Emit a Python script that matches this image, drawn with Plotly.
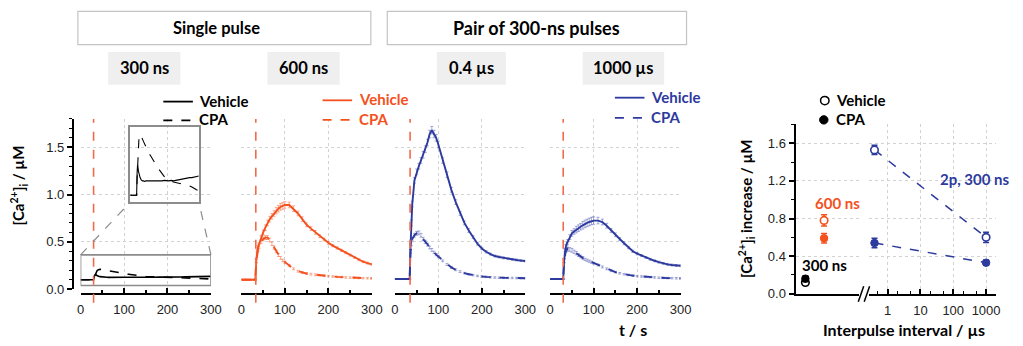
import plotly.graph_objects as go

# ---------------- data ----------------
header_groups = ["Single pulse", "Pair of 300-ns pulses"]
panel_labels = ["300 ns", "600 ns", "0.4 µs", "1000 µs"]
series_names = ["Vehicle", "CPA"]
stim_time = [30, 33, 35, 30]

t = [0, 10, 20, 30, 32, 34, 36, 38, 40, 45, 50, 55, 60, 65, 70, 75, 80, 85, 90, 95, 100,
     110, 120, 130, 140, 150, 160, 170, 180, 190, 200, 210, 220, 230, 240, 250, 260, 270, 280, 290, 300]

p300_veh = [0.100, 0.100, 0.100, 0.100, 0.140, 0.155, 0.150, 0.143, 0.138, 0.132, 0.128, 0.126, 0.126, 0.125,
            0.126, 0.126, 0.125, 0.126, 0.126, 0.125, 0.126, 0.126, 0.125, 0.126, 0.126, 0.127, 0.126, 0.126,
            0.127, 0.126, 0.127, 0.128, 0.128, 0.129, 0.130, 0.131, 0.132, 0.132, 0.133, 0.134, 0.135]
p300_cpa = [0.100, 0.100, 0.100, 0.100, 0.130, 0.160, 0.180, 0.195, 0.203, 0.210, 0.207, 0.202, 0.197, 0.192,
            0.187, 0.183, 0.179, 0.175, 0.172, 0.168, 0.165, 0.158, 0.151, 0.145, 0.139, 0.134, 0.131, 0.128,
            0.126, 0.124, 0.123, 0.122, 0.121, 0.121, 0.120, 0.119, 0.117, 0.115, 0.112, 0.110, 0.108]

p600_veh = [0.100, 0.100, 0.100, 0.100, 0.100, 0.300, 0.400, 0.440, 0.470, 0.540, 0.600, 0.650, 0.700, 0.740,
            0.770, 0.800, 0.830, 0.850, 0.870, 0.880, 0.890, 0.890, 0.850, 0.800, 0.740, 0.680, 0.640, 0.600,
            0.560, 0.525, 0.490, 0.460, 0.435, 0.410, 0.385, 0.360, 0.335, 0.310, 0.290, 0.275, 0.262]
p600_cpa = [0.100, 0.100, 0.100, 0.100, 0.100, 0.300, 0.380, 0.420, 0.450, 0.500, 0.530, 0.545, 0.545, 0.520,
            0.480, 0.440, 0.400, 0.360, 0.330, 0.305, 0.285, 0.250, 0.215, 0.190, 0.175, 0.165, 0.158, 0.152,
            0.147, 0.142, 0.138, 0.134, 0.130, 0.127, 0.124, 0.122, 0.120, 0.118, 0.116, 0.115, 0.114]

p04_veh = [0.107, 0.107, 0.107, 0.107, 0.107, 0.107, 0.450, 0.700, 0.900, 1.150, 1.240, 1.300, 1.360, 1.420,
           1.480, 1.550, 1.640, 1.680, 1.640, 1.600, 1.530, 1.360, 1.210, 1.050, 0.920, 0.800, 0.700, 0.620,
           0.550, 0.480, 0.430, 0.395, 0.370, 0.350, 0.340, 0.330, 0.322, 0.315, 0.308, 0.302, 0.297]
p04_cpa = [0.107, 0.107, 0.107, 0.107, 0.107, 0.107, 0.400, 0.480, 0.530, 0.570, 0.590, 0.595, 0.570, 0.530,
           0.500, 0.470, 0.440, 0.415, 0.390, 0.365, 0.345, 0.300, 0.260, 0.230, 0.205, 0.185, 0.170, 0.158,
           0.148, 0.140, 0.134, 0.130, 0.126, 0.123, 0.121, 0.120, 0.119, 0.118, 0.117, 0.117, 0.116]

p1000_veh = [0.107, 0.107, 0.107, 0.107, 0.300, 0.400, 0.450, 0.480, 0.500, 0.550, 0.590, 0.610, 0.630, 0.645,
             0.660, 0.675, 0.690, 0.700, 0.710, 0.720, 0.725, 0.725, 0.710, 0.670, 0.620, 0.575, 0.530, 0.485,
             0.440, 0.400, 0.375, 0.355, 0.335, 0.315, 0.300, 0.285, 0.272, 0.262, 0.255, 0.250, 0.248]
p1000_cpa = [0.107, 0.107, 0.107, 0.107, 0.300, 0.380, 0.410, 0.420, 0.425, 0.420, 0.410, 0.395, 0.380, 0.360,
             0.345, 0.330, 0.315, 0.305, 0.295, 0.285, 0.275, 0.255, 0.235, 0.215, 0.195, 0.180, 0.168, 0.158,
             0.150, 0.143, 0.138, 0.134, 0.130, 0.127, 0.124, 0.121, 0.119, 0.117, 0.116, 0.115, 0.114]

sem600_veh = [0.005, 0.005, 0.005, 0.005, 0.005, 0.02, 0.02, 0.02, 0.02, 0.025, 0.025, 0.03, 0.03, 0.03,
              0.03, 0.03, 0.035, 0.035, 0.035, 0.035, 0.035, 0.03, 0.03, 0.025, 0.025, 0.02, 0.02, 0.02,
              0.015, 0.015, 0.015, 0.012, 0.012, 0.012, 0.01, 0.01, 0.01, 0.01, 0.01, 0.01, 0.01]
sem600_cpa = [0.005, 0.005, 0.005, 0.005, 0.005, 0.02, 0.02, 0.02, 0.02, 0.02, 0.02, 0.02, 0.02, 0.02,
              0.018, 0.018, 0.015, 0.015, 0.015, 0.012, 0.012, 0.012, 0.01, 0.01, 0.01, 0.01, 0.01, 0.01,
              0.008, 0.008, 0.008, 0.008, 0.008, 0.008, 0.008, 0.008, 0.008, 0.008, 0.008, 0.008, 0.008]
sem04_veh = [0.005, 0.005, 0.005, 0.005, 0.005, 0.005, 0.03, 0.03, 0.03, 0.03, 0.03, 0.03, 0.03, 0.035,
             0.035, 0.035, 0.04, 0.04, 0.04, 0.035, 0.035, 0.03, 0.03, 0.025, 0.025, 0.02, 0.02, 0.02,
             0.015, 0.015, 0.012, 0.012, 0.01, 0.01, 0.01, 0.01, 0.01, 0.01, 0.01, 0.01, 0.01]
sem04_cpa = [0.005, 0.005, 0.005, 0.005, 0.005, 0.005, 0.02, 0.02, 0.02, 0.02, 0.02, 0.02, 0.02, 0.018,
             0.018, 0.015, 0.015, 0.015, 0.012, 0.012, 0.012, 0.01, 0.01, 0.01, 0.01, 0.01, 0.008, 0.008,
             0.008, 0.008, 0.008, 0.008, 0.008, 0.008, 0.008, 0.008, 0.008, 0.008, 0.008, 0.008, 0.008]
sem1000_veh = [0.005, 0.005, 0.005, 0.005, 0.02, 0.02, 0.02, 0.02, 0.025, 0.025, 0.03, 0.03, 0.035, 0.035,
               0.035, 0.04, 0.04, 0.04, 0.04, 0.04, 0.04, 0.035, 0.03, 0.025, 0.02, 0.02, 0.015, 0.015,
               0.012, 0.012, 0.012, 0.01, 0.01, 0.01, 0.01, 0.01, 0.01, 0.01, 0.01, 0.01, 0.01]
sem1000_cpa = [0.005, 0.005, 0.005, 0.005, 0.02, 0.02, 0.02, 0.02, 0.02, 0.02, 0.02, 0.018, 0.018, 0.015,
               0.015, 0.015, 0.012, 0.012, 0.012, 0.012, 0.01, 0.01, 0.01, 0.01, 0.01, 0.008, 0.008, 0.008,
               0.008, 0.008, 0.008, 0.008, 0.008, 0.008, 0.008, 0.008, 0.008, 0.008, 0.008, 0.008, 0.008]

# summary panel
single_pos = [1, 2]                 # 300 ns, 600 ns (left, non-interval segment)
single_labels = ["300 ns", "600 ns"]
single_veh = [0.12, 0.78]
single_veh_err = [0.03, 0.06]
single_cpa = [0.16, 0.59]
single_cpa_err = [0.03, 0.05]
pair_interval = [0.4, 1000]         # µs
pair_label = "2p, 300 ns"
pair_veh = [1.53, 0.60]
pair_veh_err = [0.05, 0.055]
pair_cpa = [0.54, 0.33]
pair_cpa_err = [0.05, 0.025]

# ---------------- style ----------------
W, H = 1023, 346
def px(x): return x / W
def py(y): return 1 - y / H

BLACK = "#000000"
ORANGE = "#F4511E"
BLUE = "#2D3A9E"
STIM = "#F26A48"
GRID = "#d2d2d2"
TICKFONT = dict(family="Liberation Sans, Arial", size=13, color="#222222")
BOLD = "Lato"

fig = go.Figure()

panels = [
    dict(xa="x", veh=p300_veh, cpa=p300_cpa, sv=None, sc=None, color=BLACK, err=None),
    dict(xa="x2", veh=p600_veh, cpa=p600_cpa, sv=sem600_veh, sc=sem600_cpa, color=ORANGE, err="rgba(244,81,30,0.5)"),
    dict(xa="x3", veh=p04_veh, cpa=p04_cpa, sv=sem04_veh, sc=sem04_cpa, color=BLUE, err="rgba(45,58,158,0.45)"),
    dict(xa="x4", veh=p1000_veh, cpa=p1000_cpa, sv=sem1000_veh, sc=sem1000_cpa, color=BLUE, err="rgba(45,58,158,0.45)"),
]

for p in panels:
    for vals, sem, dash, name in [(p["veh"], p["sv"], "solid", series_names[0]), (p["cpa"], p["sc"], "dash", series_names[1])]:
        if sem is not None:
            fig.add_trace(go.Scatter(x=t, y=vals, xaxis=p["xa"], yaxis="y", mode="markers",
                                     marker=dict(size=1, color="rgba(0,0,0,0)"),
                                     error_y=dict(type="data", array=sem, color=p["err"], thickness=0.9, width=1.5),
                                     hoverinfo="skip", showlegend=False))
        fig.add_trace(go.Scatter(x=t, y=vals, xaxis=p["xa"], yaxis="y", mode="lines", name=name,
                                 line=dict(color=p["color"], width=1.6 if p["color"] == BLACK else 1.9, dash=dash),
                                 showlegend=False))

# inset (magnified view of the 300 ns panel)
for vals, dash in [(p300_veh, "solid"), (p300_cpa, "dash")]:
    fig.add_trace(go.Scatter(x=t, y=vals, xaxis="x5", yaxis="y5", mode="lines",
                             line=dict(color=BLACK, width=1.1, dash=dash), showlegend=False))

# summary panel: dashed connections
for vals in [pair_veh, pair_cpa]:
    fig.add_trace(go.Scatter(x=pair_interval, y=vals, xaxis="x7", yaxis="y6", mode="lines",
                             line=dict(color=BLUE, width=1.5, dash="dash"), showlegend=False))

MS = 7.5
single_colors = [BLACK, ORANGE]
for i in range(len(single_pos)):
    c = single_colors[i]
    fig.add_trace(go.Scatter(x=[single_pos[i]], y=[single_veh[i]], xaxis="x6", yaxis="y6", mode="markers",
                             marker=dict(symbol="circle", size=MS, color="white", line=dict(color=c, width=1.6)),
                             error_y=dict(type="data", array=[single_veh_err[i]], color=c, thickness=1.5, width=3),
                             showlegend=False))
    fig.add_trace(go.Scatter(x=[single_pos[i]], y=[single_cpa[i]], xaxis="x6", yaxis="y6", mode="markers",
                             marker=dict(symbol="circle", size=MS, color=c, line=dict(color=c, width=1)),
                             error_y=dict(type="data", array=[single_cpa_err[i]], color=c, thickness=1.5, width=3),
                             showlegend=False))

fig.add_trace(go.Scatter(x=pair_interval, y=pair_veh, xaxis="x7", yaxis="y6", mode="markers",
                         marker=dict(symbol="circle", size=MS, color="white", line=dict(color=BLUE, width=1.6)),
                         error_y=dict(type="data", array=pair_veh_err, color=BLUE, thickness=1.5, width=3),
                         showlegend=False))
fig.add_trace(go.Scatter(x=pair_interval, y=pair_cpa, xaxis="x7", yaxis="y6", mode="markers",
                         marker=dict(symbol="circle", size=MS, color=BLUE, line=dict(color=BLUE, width=1)),
                         error_y=dict(type="data", array=pair_cpa_err, color=BLUE, thickness=1.5, width=3),
                         showlegend=False))

# ---------------- axes ----------------
Y0_PX, Y1_PX = 296.0, 121.7      # y=0 and top of time panels
XAX_PX = 300.7                   # x axis line of time panels
time_domains = [(77.7, 210.0), (241.0, 373.3), (396.7, 529.0), (554.3, 686.7)]

def time_axis(d0, d1):
    return dict(domain=[px(d0), px(d1)], range=[0, 300], anchor="free", position=py(XAX_PX),
                showline=True, linecolor="black", linewidth=2,
                ticks="inside", ticklen=5, tickwidth=1.5, tickcolor="black",
                tickmode="array", tickvals=[0, 100, 200, 300], tickfont=TICKFONT, ticklabelstandoff=4,
                minor=dict(tickmode="array", tickvals=[50, 150, 250], ticks="inside", ticklen=3,
                           tickwidth=1.5, tickcolor="black", showgrid=False),
                showgrid=True, gridcolor=GRID, griddash="dot", gridwidth=1, zeroline=False)

layout_axes = {}
for i, (d0, d1) in enumerate(time_domains):
    key = "xaxis" if i == 0 else f"xaxis{i+1}"
    layout_axes[key] = time_axis(d0, d1)

layout_axes["yaxis"] = dict(domain=[py(Y0_PX), py(Y1_PX)], range=[0, 1.8], anchor="free", position=px(70),
                            showline=True, linecolor="black", linewidth=2,
                            ticks="outside", ticklen=5, tickwidth=1.5, tickcolor="black",
                            tickmode="array", tickvals=[0, 0.5, 1.0, 1.5], tickformat=".1f", tickfont=TICKFONT,
                            minor=dict(tickmode="linear", tick0=0, dtick=0.1, ticks="outside", ticklen=3,
                                       tickwidth=1.2, tickcolor="black", showgrid=False),
                            showgrid=True, gridcolor=GRID, griddash="dot", gridwidth=1, zeroline=False)

INSET = dict(x0=128.3, x1=197.7, y0=130.0, y1=206.7)
inset_xrange = [3, 300]
inset_yrange = [0.088, 0.2235]
layout_axes["xaxis5"] = dict(domain=[px(INSET["x0"]), px(INSET["x1"])], range=inset_xrange, anchor="y5",
                             showline=True, mirror=True, linecolor="#8c8c8c", linewidth=1.6,
                             ticks="", showticklabels=False, showgrid=False, zeroline=False)
layout_axes["yaxis5"] = dict(domain=[py(INSET["y1"]), py(INSET["y0"])], range=inset_yrange, anchor="x5",
                             showline=True, mirror=True, linecolor="#8c8c8c", linewidth=1.6,
                             ticks="", showticklabels=False, showgrid=False, zeroline=False)

# summary panel
R_Y0, R_Y1 = 300.7, 126.7
layout_axes["yaxis6"] = dict(domain=[py(R_Y0), py(R_Y1)], range=[0, 1.808], anchor="x6",
                             showline=True, linecolor="black", linewidth=2,
                             ticks="outside", ticklen=5, tickwidth=1.5, tickcolor="black",
                             tickmode="array", tickvals=[0, 0.4, 0.8, 1.2, 1.6], tickformat=".1f", tickfont=TICKFONT,
                             minor=dict(tickmode="linear", tick0=0, dtick=0.2, ticks="outside", ticklen=3,
                                        tickwidth=1.2, tickcolor="black", showgrid=False),
                             showgrid=True, gridcolor=GRID, griddash="dot", gridwidth=1, zeroline=False)
layout_axes["xaxis6"] = dict(domain=[px(803.3), px(868.0)], range=[0.474, 3.879], anchor="y6",
                             showline=True, linecolor="black", linewidth=2, ticks="", showticklabels=False,
                             showgrid=False, zeroline=False)
layout_axes["xaxis7"] = dict(domain=[px(878.0), px(1006.7)], type="log", range=[-0.561, 3.3], anchor="y6",
                             showline=True, linecolor="black", linewidth=2,
                             ticks="inside", ticklen=5, tickwidth=1.5, tickcolor="black",
                             tickmode="array", tickvals=[1, 10, 100, 1000], ticktext=["1", "10", "100", "1000"],
                             tickfont=TICKFONT, ticklabelstandoff=4,
                             minor=dict(tickmode="array", tickvals=[0.5, 2, 5, 20, 50, 200, 500], ticks="inside",
                                        ticklen=3, tickwidth=1.2, tickcolor="black", showgrid=False),
                             showgrid=True, gridcolor=GRID, griddash="dot", gridwidth=1, zeroline=False)

# ---------------- shapes ----------------
shapes = []
# stimulus lines
for i, st in enumerate(stim_time):
    xa = "x" if i == 0 else f"x{i+1}"
    shapes.append(dict(type="line", xref=xa, yref="paper", x0=st, x1=st, y0=py(310), y1=py(121.7),
                       line=dict(color=STIM, width=1.6, dash="dash")))

# magnified region box in panel 1 (data coordinates)
zoom_lo, zoom_hi = 0.038, 0.362
shapes.append(dict(type="rect", xref="x", yref="y", x0=0, x1=300, y0=zoom_lo, y1=zoom_hi,
                   line=dict(color="#8c8c8c", width=1.6)))
# connectors from box to inset (pixel positions derived from axis mappings)
def p1x(v): return time_domains[0][0] + (v / 300) * (time_domains[0][1] - time_domains[0][0])
def p1y(v): return Y0_PX - v * (Y0_PX - Y1_PX) / 1.8
for bx, ix in [(p1x(0), INSET["x0"]), (p1x(300), INSET["x1"])]:
    shapes.append(dict(type="line", xref="paper", yref="paper", x0=px(bx), y0=py(p1y(zoom_hi)),
                       x1=px(ix), y1=py(INSET["y1"]), line=dict(color="#8c8c8c", width=1.2, dash="dash")))

# header boxes
hdr = [(75, 372.3), (389, 692.7)]
for (a, b) in hdr:
    shapes.append(dict(type="rect", xref="paper", yref="paper", x0=px(a), x1=px(b), y0=py(45.7), y1=py(11.7),
                       line=dict(color="#c4c4c4", width=1.2), fillcolor="white"))
sub = [(105.7, 179.0), (267.3, 340.7), (439.3, 509.3), (587.3, 670.0)]
for (a, b) in sub:
    shapes.append(dict(type="rect", xref="paper", yref="paper", x0=px(a), x1=px(b), y0=py(86.7), y1=py(53.3),
                       line=dict(width=0), fillcolor="#efefef"))

# line-sample legends
leg = [(161.7, 191.7, 104.0, 123.3, BLACK), (323.3, 353.3, 102.7, 122.7, ORANGE), (620.0, 650.0, 100.0, 120.7, BLUE)]
for (a, b, yv, yc, c) in leg:
    shapes.append(dict(type="line", xref="paper", yref="paper", x0=px(a), x1=px(b), y0=py(yv), y1=py(yv),
                       line=dict(color=c, width=1.8)))
    shapes.append(dict(type="line", xref="paper", yref="paper", x0=px(a), x1=px(b), y0=py(yc), y1=py(yc),
                       line=dict(color=c, width=1.8, dash="dash")))

# marker legend (summary panel)
r = 4.3
shapes.append(dict(type="circle", xref="paper", yref="paper", x0=px(833 - r), x1=px(833 + r),
                   y0=py(103 + r), y1=py(103 - r), line=dict(color="black", width=1.5), fillcolor="white"))
shapes.append(dict(type="circle", xref="paper", yref="paper", x0=px(832 - r), x1=px(832 + r),
                   y0=py(122.7 + r), y1=py(122.7 - r), line=dict(color="black", width=1), fillcolor="black"))

# axis break marks
for off in [0, 6]:
    shapes.append(dict(type="line", xref="paper", yref="paper", x0=px(867 + off), y0=py(309),
                       x1=px(872.5 + off), y1=py(293), line=dict(color="black", width=1.5)))

# ---------------- text ----------------
ann = []
def label(x, y, text, size=15, color="black", family=BOLD, bold=True, xanchor="center", angle=0):
    ann.append(dict(x=px(x), y=py(y), xref="paper", yref="paper", text=text, showarrow=False,
                    xanchor=xanchor, yanchor="middle", textangle=angle,
                    font=dict(family=family, size=size, color=color, weight="bold" if bold else "normal")))

label(215.7, 28.7, header_groups[0], size=16.5)
label(540.8, 28.7, header_groups[1], size=18)
for (a, b), txt in zip(sub, panel_labels):
    label((a + b) / 2, 70.0, txt, size=16.5)

for (a, b, yv, yc, c) in leg:
    label(b + 4.5, yv - 1, series_names[0], size=15, color=c, xanchor="left")
    label(b + 4.5, yc - 1, series_names[1], size=15, color=c, xanchor="left")
label(842, 102, series_names[0], size=15, xanchor="left")
label(842, 122, series_names[1], size=15, xanchor="left")

label(15, 190, "[Ca<sup>2+</sup>]<sub>i</sub> / µM", size=15, angle=-90)
label(638, 337, "t / s", size=16)
label(753, 213, "[Ca<sup>2+</sup>]<sub>i</sub> increase / µM", size=15, angle=-90)
label(913, 337, "Interpulse interval / µs", size=16)

label(833, 271.7, single_labels[0], size=15, color=BLACK)
label(846, 208, single_labels[1], size=15, color=ORANGE)
label(985, 183, pair_label, size=15, color=BLUE)

fig.update_layout(width=W, height=H, margin=dict(l=0, r=0, t=0, b=0),
                  paper_bgcolor="white", plot_bgcolor="rgba(0,0,0,0)", showlegend=False,
                  shapes=shapes, annotations=ann, **layout_axes)

fig.write_html("out.html", config={"displayModeBar": False})
